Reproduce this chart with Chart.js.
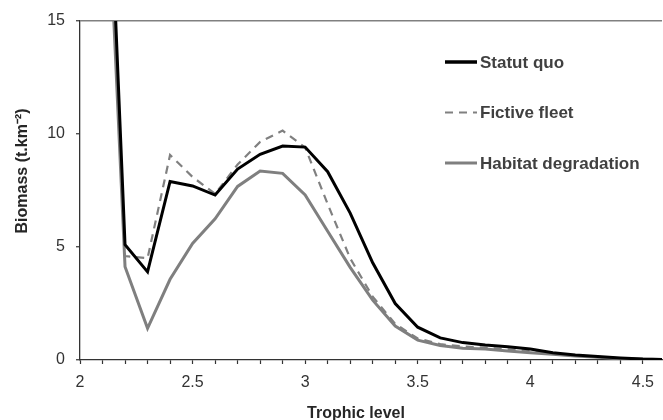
<!DOCTYPE html>
<html>
<head>
<meta charset="utf-8">
<title>Biomass by trophic level</title>
<script src="https://cdn.jsdelivr.net/npm/chart.js@4/dist/chart.umd.min.js"></script>
<style>
  html, body { margin: 0; padding: 0; background: #fff; }
  #wrap { width: 663px; height: 420px; }
</style>
</head>
<body>
<div id="wrap"><canvas id="chart"></canvas></div>
<script>
const trophicLevels = [2.1, 2.2, 2.3, 2.4, 2.5, 2.6, 2.7, 2.8, 2.9, 3.0, 3.1, 3.2, 3.3,
  3.4, 3.5, 3.6, 3.7, 3.8, 3.9, 4.0, 4.1, 4.2, 4.3, 4.4, 4.5, 4.6];

const statutQuo = [29, 5.1, 3.9, 7.9, 7.7, 7.3, 8.45, 9.1, 9.47, 9.42, 8.33, 6.5, 4.3,
  2.5, 1.45, 0.98, 0.77, 0.66, 0.59, 0.49, 0.32, 0.22, 0.15, 0.09, 0.04, 0.02];

const fictiveFleet = [27, 4.6, 4.5, 9.07, 8.1, 7.35, 8.65, 9.65, 10.15, 9.4, 6.9, 4.5, 2.8,
  1.6, 0.95, 0.7, 0.6, 0.55, 0.47, 0.4, 0.3, 0.2, 0.13, 0.07, 0.03, 0.02];

const habitatDegradation = [26, 4.13, 1.4, 3.57, 5.16, 6.25, 7.68, 8.36, 8.26, 7.3, 5.7, 4.1, 2.65,
  1.5, 0.88, 0.64, 0.52, 0.49, 0.4, 0.32, 0.25, 0.18, 0.12, 0.06, 0.03, 0.02];

const seriesNames = ["Statut quo", "Fictive fleet", "Habitat degradation"];
const yTicks = [0, 5, 10, 15];
const xLabelTicks = [2, 2.5, 3, 3.5, 4, 4.5];

const toPoints = (vals) => vals.map((v, i) => ({ x: trophicLevels[i], y: v }));

// legend drawn at fixed spots inside the plot, like the original
const sideLegend = {
  id: "sideLegend",
  afterDraw(chart) {
    const ctx = chart.ctx;
    chart.data.datasets.forEach((ds, i) => {
      const y = 62 + i * 50.5;
      ctx.save();
      ctx.strokeStyle = ds.borderColor;
      ctx.lineWidth = i === 0 ? 3.5 : ds.borderWidth;
      ctx.setLineDash(ds.borderDash || []);
      ctx.beginPath();
      ctx.moveTo(445, y);
      ctx.lineTo(477, y);
      ctx.stroke();
      ctx.setLineDash([]);
      ctx.fillStyle = "#404040";
      ctx.font = "bold 17px 'Liberation Sans', Arial, sans-serif";
      ctx.textBaseline = "middle";
      ctx.fillText(ds.label, 480, y + 1);
      ctx.restore();
    });
  },
};

// axis titles
const axisTitles = {
  id: "axisTitles",
  afterDraw(chart) {
    const ctx = chart.ctx;
    ctx.save();
    ctx.fillStyle = "#262626";
    ctx.font = "bold 16px 'Liberation Sans', Arial, sans-serif";
    ctx.textAlign = "center";
    ctx.textBaseline = "alphabetic";
    ctx.fillText("Trophic level", 356, 418);
    ctx.translate(27, 171);
    ctx.rotate(-Math.PI / 2);
    ctx.fillText("Biomass (t.km\u207B\u00B2)", 0, 0);
    ctx.restore();
  },
};

new Chart(document.getElementById("chart"), {
  type: "line",
  data: {
    datasets: [
      {
        label: seriesNames[0],
        data: toPoints(statutQuo),
        borderColor: "#000000",
        borderWidth: 3,
      },
      {
        label: seriesNames[1],
        data: toPoints(fictiveFleet),
        borderColor: "#808080",
        borderWidth: 2.2,
        borderDash: [8, 6],
      },
      {
        label: seriesNames[2],
        data: toPoints(habitatDegradation),
        borderColor: "#7f7f7f",
        borderWidth: 3,
      },
    ],
  },
  options: {
    responsive: true,
    maintainAspectRatio: false,
    animation: false,
    layout: { padding: { top: 21, right: 0, left: 0, bottom: 0 } },
    elements: {
      point: { radius: 0, hoverRadius: 0 },
      line: { tension: 0, borderJoinStyle: "miter" },
    },
    plugins: {
      legend: { display: false },
      tooltip: { enabled: false },
    },
    scales: {
      x: {
        type: "linear",
        min: 2,
        max: 4.585,
        afterBuildTicks(scale) {
          const ticks = [];
          for (let v = 2; v <= 4.5001; v += 0.1) ticks.push({ value: Math.round(v * 10) / 10 });
          scale.ticks = ticks;
        },
        afterFit(scale) { scale.height = 60; },
        ticks: {
          autoSkip: false,
          maxRotation: 0,
          padding: 9,
          color: "#333",
          font: { family: "'Liberation Sans', Arial, sans-serif", size: 16 },
          callback: (v) => xLabelTicks.some((t) => Math.abs(t - v) < 1e-6) ? String(v) : "",
        },
        grid: {
          drawOnChartArea: false,
          drawTicks: true,
          tickLength: 4,
          tickColor: "#333",
          tickWidth: 1.2,
        },
        border: { color: "#333", width: 1.3 },
      },
      y: {
        min: 0,
        max: 15,
        afterBuildTicks(scale) {
          scale.ticks = yTicks.map((v) => ({ value: v }));
        },
        afterFit(scale) { scale.width = 80; },
        ticks: {
          padding: 11,
          color: "#333",
          font: { family: "'Liberation Sans', Arial, sans-serif", size: 16 },
        },
        grid: {
          color: (c) => (c.tick && c.tick.value === 15 ? "#808080" : "rgba(0,0,0,0)"),
          lineWidth: 1.5,
          tickLength: 4,
          tickColor: "#333",
          tickWidth: 1.2,
        },
        border: { color: "#333", width: 1.3 },
      },
    },
  },
  plugins: [sideLegend, axisTitles],
});
</script>
</body>
</html>
